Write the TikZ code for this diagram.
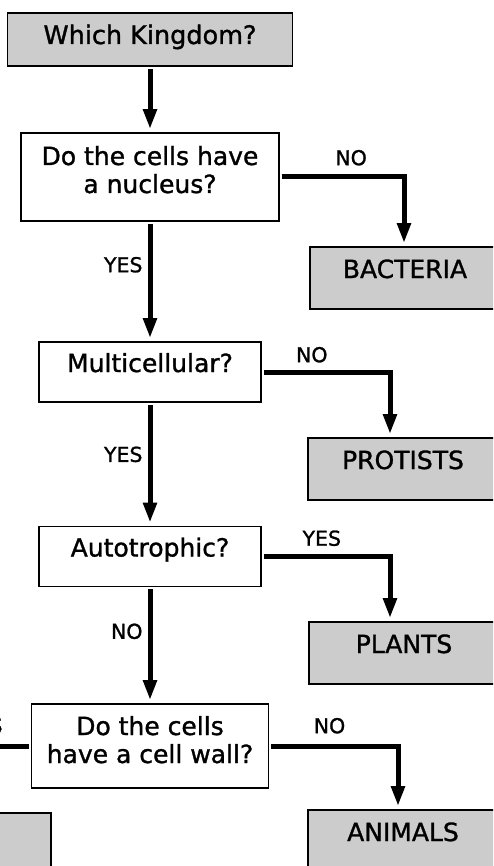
\documentclass[tikz,border=0pt]{standalone}
\usepackage{fontspec}
\setmainfont{DejaVu Sans}[BoldFont={DejaVu Sans}, BoldFeatures={FakeBold=1.2}]
\usetikzlibrary{arrows.meta}
\definecolor{boxgray}{HTML}{CCCCCC}

\begin{document}
\begin{tikzpicture}[x=1pt, y=-1pt, >={Triangle[length=20pt,width=13pt]},
    question/.style={draw, line width=1.6pt, fill=white, inner sep=0pt, align=center,
      font=\fontsize{25}{28}\selectfont\bfseries},
    answer/.style={draw, line width=1.6pt, fill=boxgray, inner sep=0pt,
      minimum width=190pt, minimum height=62pt, text height=20pt, text depth=20pt,
      font=\fontsize{25}{27}\selectfont\bfseries},
    branch/.style={->, line width=5pt, shorten <=2pt, shorten >=3pt},
    choice/.style={inner sep=0pt, font=\fontsize{20.5}{22}\selectfont\bfseries}]
  \useasboundingbox (0,0) rectangle (493,866);
  \clip (0,0) rectangle (493,866);

  % questions down the left
  \node (kingdom) [question, fill=boxgray, minimum width=285pt, minimum height=53pt,
    text height=20pt, text depth=11pt, font=\fontsize{25.5}{28}\selectfont\bfseries]
    at (150,39.5) {Which Kingdom?};
  \node (nucleus) [question, minimum width=258pt, minimum height=88pt,
    text height=48pt, text depth=16pt, below of=kingdom, node distance=137.5pt]
    {Do the cells have\\a nucleus?};
  \node (multi) [question, minimum width=222pt, minimum height=60pt,
    text height=20pt, text depth=20pt, below of=nucleus, node distance=195pt]
    {Multicellular?};
  \node (autotroph) [question, minimum width=222pt, minimum height=60pt,
    text height=20pt, text depth=20pt, below of=multi, node distance=184.5pt]
    {Autotrophic?};
  \node (wall) [question, minimum width=237pt, minimum height=84pt,
    text height=48pt, text depth=14pt, below of=autotroph, node distance=189.5pt]
    {Do the cells\\have a cell wall?};

  % kingdoms on the right
  \node (bacteria) [answer] at (405,278) {BACTERIA};
  \node (protists) [answer] at (403,469) {PROTISTS};
  \node (plants)   [answer] at (404,653) {PLANTS};
  \node (animals)  [answer] at (403,841) {ANIMALS};
  \node (fungi)    [answer] at (-44,844) {};

  \path (kingdom)   edge[branch] (nucleus)
        (nucleus)   edge[branch] node[choice, pos=0.36, left=5pt] {YES} (multi)
        (multi)     edge[branch] node[choice, pos=0.42, left=5pt] {YES} (autotroph)
        (autotroph) edge[branch] node[choice, pos=0.38, left=5pt] {NO}  (wall);

  \draw[branch] (nucleus.east) -| node[choice, pos=0.287, above=9pt] {NO}
    ([xshift=-1pt]bacteria.north);
  \draw[branch] (multi.east) -| node[choice, pos=0.195, above=7pt] {NO}
    ([xshift=-13pt]protists.north);
  \draw[branch] (autotroph.east) -| node[choice, pos=0.234, above=8pt] {YES}
    ([xshift=-14pt]plants.north);
  \draw[branch] (wall.east) -| node[choice, pos=0.234, above=10pt] {NO}
    ([xshift=-5pt]animals.north);
  \draw[branch] (wall.west) -| node[choice, pos=0.317, above=10pt] {YES}
    (fungi.north);
\end{tikzpicture}
\end{document}
